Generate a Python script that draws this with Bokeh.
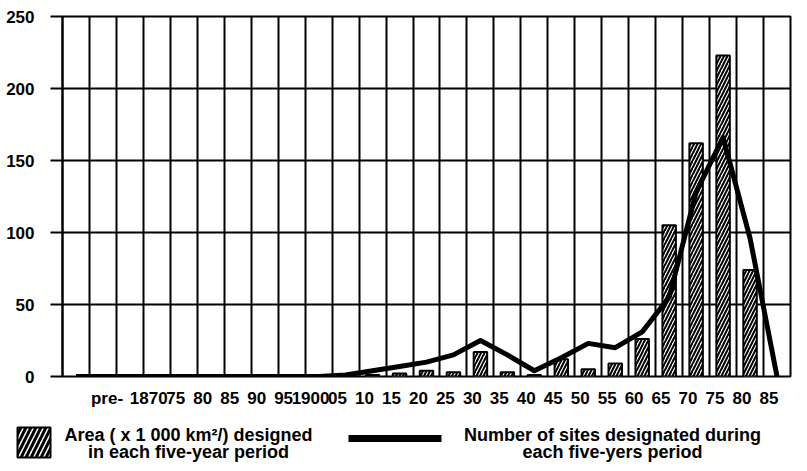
from bokeh.plotting import figure
from bokeh.models import FixedTicker, Range1d, ColumnDataSource
from bokeh.layouts import column, row
from bokeh.core.properties import value
from bokeh.embed import file_html
from bokeh.resources import INLINE

# ---- data (one entry per five-year cell) ----
periods = ["", "pre-", "", "1870", "75", "80", "85", "90", "95", "1900", "05",
           "10", "15", "20", "25", "30", "35", "40", "45", "50", "55", "60",
           "65", "70", "75", "80", "85"]
area = [0, 0, 0, 0, 0, 0, 0, 0, 0, 0, 0,
        1, 2, 4, 3, 17, 3, 1, 12, 5, 9, 26,
        105, 162, 223, 74, 0]
sites = [0, 0, 0, 0, 0, 0, 0, 0, 0, 0, 1,
         4, 7, 10, 15, 25, 15, 4, 13, 23, 20, 31,
         55, 128, 166, 96, 0]
y_ticks = [0, 50, 100, 150, 200, 250]
legend_area = ["Area ( x 1 000 km²/) designed", "in each five-year period"]
legend_sites = ["Number of sites designated during", "each five-yers period"]

FONT = "Liberation Sans"
W, H_MAIN, H_LEG = 807, 412, 59
idx = list(range(len(periods)))

p = figure(width=W, height=H_MAIN, x_range=Range1d(-0.5, len(periods) - 0.5),
           y_range=Range1d(0, 250), output_backend="svg", toolbar_location=None,
           min_border_left=62, min_border_right=17, min_border_top=16,
           min_border_bottom=36)
p.background_fill_color = "white"
p.border_fill_color = "white"
p.outline_line_color = "black"
p.outline_line_width = 2

# grid
p.xgrid.ticker = FixedTicker(ticks=[i + 0.5 for i in idx[:-1]])
p.xgrid.grid_line_color = "black"
p.xgrid.grid_line_width = 2
p.ygrid.ticker = FixedTicker(ticks=y_ticks)
p.ygrid.grid_line_color = "black"
p.ygrid.grid_line_width = 2

# y axis
p.yaxis.ticker = FixedTicker(ticks=y_ticks)
p.yaxis.axis_line_color = "black"
p.yaxis.axis_line_width = 2
p.yaxis.major_tick_out = 12
p.yaxis.major_tick_in = 0
p.yaxis.major_tick_line_width = 2
p.yaxis.minor_tick_line_color = None
p.yaxis.major_label_standoff = 16
p.yaxis.major_label_text_font = FONT
p.yaxis.major_label_text_font_style = "bold"
p.yaxis.major_label_text_font_size = "17px"
p.yaxis.major_label_text_color = "black"

# x axis (labels sit slightly left of their cells, as in the original)
def tick_at(i):
    return i + 0.15 if periods[i] == "pre-" else i - 0.3

tick_pos = [tick_at(i) for i in idx if periods[i]]
p.xaxis.ticker = FixedTicker(ticks=tick_pos)
p.xaxis.major_label_overrides = {tick_at(i): periods[i] for i in idx if periods[i]}
p.xaxis.axis_line_color = None
p.xaxis.major_tick_line_color = None
p.xaxis.minor_tick_line_color = None
p.xaxis.major_label_standoff = 6
p.xaxis.major_label_text_font = FONT
p.xaxis.major_label_text_font_style = "bold"
p.xaxis.major_label_text_font_size = "17px"
p.xaxis.major_label_text_color = "black"

bar_src = ColumnDataSource(dict(x=[i for i in idx if area[i] > 0],
                                top=[area[i] for i in idx if area[i] > 0]))
p.vbar(x="x", top="top", bottom=0, width=0.5, source=bar_src,
       fill_color="white", line_color="black", line_width=2,
       hatch_pattern="/", hatch_color="black", hatch_weight=2, hatch_scale=7)

p.line(idx, sites, line_color="black", line_width=5, line_join="round")

# ---- legend strip (data units = page pixels) ----
lf = figure(width=W, height=H_LEG, x_range=Range1d(0, W),
            y_range=Range1d(H_MAIN + H_LEG, H_MAIN),
            output_backend="svg", toolbar_location=None, min_border=0)
lf.axis.visible = False
lf.grid.visible = False
lf.outline_line_color = None
lf.background_fill_color = "white"
lf.border_fill_color = "white"

lf.quad(left=[17], right=[50], top=[427], bottom=[457], fill_color="white",
        line_color="black", line_width=2, hatch_pattern="/", hatch_color="black",
        hatch_weight=3, hatch_scale=10)
lf.text(x=[188, 188], y=[434, 451], text=legend_area, text_align="center",
        text_baseline="middle", text_font=value(FONT), text_font_style="bold",
        text_font_size="18px", text_color="black")
lf.line(x=[348, 441], y=[438, 438], line_color="black", line_width=7)
lf.text(x=[612, 612], y=[434, 451], text=legend_sites, text_align="center",
        text_baseline="middle", text_font=value(FONT), text_font_style="bold",
        text_font_size="18px", text_color="black")

layout = column(p, row(lf))
open("out.html", "w").write(file_html(layout, INLINE))
